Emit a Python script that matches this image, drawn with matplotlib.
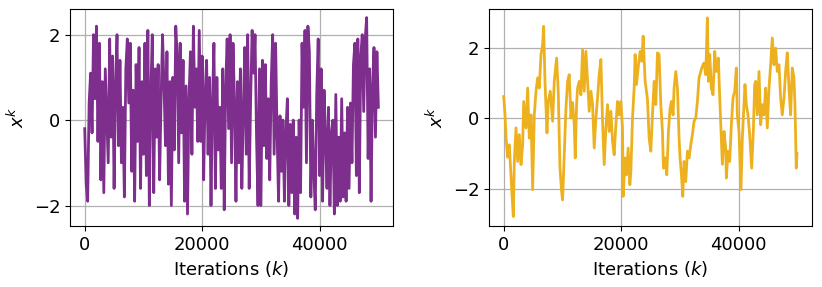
import numpy as np
import matplotlib
matplotlib.use('Agg')
import matplotlib.pyplot as plt

# left chain: fast mixing, sampled every 250 iterations
left_step = 250
left_x = [
    -0.2, -1.5, -1.9, 0.4, 1.1, -0.3, 2.0, 0.5, 2.2, -0.5,
    1.8, -1.4, 0.9, -1.7, 1.2, 0.1, -1.0, 1.9, -0.4, 1.5,
    -1.6, 0.8, 2.0, -0.6, 1.4, -1.0, 0.3, -1.8, 1.2, 1.9,
    0.4, 1.8, -1.2, 0.7, -1.9, 1.3, -0.5, 1.7, -1.6, 0.9,
    -0.8, 1.8, -1.3, 2.1, -2.0, 0.6, 2.0, -1.7, 1.2, -0.4,
    1.3, -1.4, 0.5, 2.0, 0.8, -0.6, 1.6, -1.5, 0.9, -2.0,
    1.0, -0.7, 2.2, 1.5, -1.0, 1.8, -0.3, 1.4, -1.9, 0.8,
    -2.2, 0.5, 1.6, -0.8, 2.2, 0.3, 1.2, -0.5, 2.1, -0.5,
    1.5, -1.4, 0.6, 1.4, -0.8, 1.0, -2.0, 0.4, 1.8, -1.6,
    1.0, -0.7, 0.3, -1.6, 1.2, -2.1, 0.8, 1.9, -0.2, 2.0,
    -1.0, 1.8, 0.4, -1.9, 0.9, -1.0, 1.2, -1.6, 0.2, 1.7,
    -0.8, 2.0, -1.6, 0.5, 2.1, 1.1, 2.0, -0.4, -2.0, 1.2,
    -2.0, 1.4, -0.6, 1.3, -0.9, 0.5, -1.4, 0.9, 2.0, -0.8,
    1.8, -0.3, -1.9, 0.1, -1.2, 0.0, -1.9, -0.3, 0.5, -2.0,
    -0.1, -1.7, 0.0, -2.2, -0.4, -2.3, 0.0, -1.7, 1.8, 0.3,
    2.1, -1.0, 2.2, 1.6, -1.8, 0.0, -1.2, -2.1, 0.6, 1.9,
    -1.3, 1.2, -1.9, 0.7, -0.4, -1.6, 0.3, -2.0, -0.3, 0.0,
    -2.2, 0.6, -2.0, -0.4, -1.9, 0.5, -1.8, -0.3, -1.9, 0.3,
    -1.6, 0.4, -1.0, 1.3, 1.8, -1.3, 1.9, -1.7, 1.5, 2.0,
    0.2, 1.9, 2.4, -0.9, 1.2, -1.9, 0.8, 1.7, -0.4, 1.6,
    0.3,
]
left_k = np.arange(len(left_x)) * left_step

# right chain: slow mixing, read at irregular iterations
right_k = [
    0, 230, 400, 680, 960, 1130, 1360, 1640, 1810, 2100,
    2380, 2660, 2950, 3230, 3400, 3800, 4080, 4360, 4650, 4930,
    5210, 5500, 5780, 6060, 6350, 6630, 6800, 7030, 7370, 7590,
    7930, 8330, 8610, 9010, 9290, 9580, 9860, 10030, 10310, 10600,
    10880, 11160, 11450, 11730, 12010, 12180, 12410, 12580, 12860, 13150,
    13430, 13710, 14000, 14280, 14560, 14850, 15130, 15410, 15700, 15980,
    16260, 16550, 16830, 17110, 17400, 17680, 17960, 18250, 18530, 18810,
    19100, 19380, 19660, 19950, 20230, 20340, 20680, 20910, 21190, 21480,
    21650, 21930, 22210, 22380, 22610, 22950, 23230, 23520, 23740, 24080,
    24480, 24760, 25050, 25330, 25610, 25900, 26180, 26460, 26750, 27030,
    27200, 27480, 27770, 28050, 28330, 28560, 28840, 29010, 29300, 29580,
    29860, 30030, 30260, 30490, 30710, 31000, 31280, 31560, 31850, 32130,
    32410, 32700, 32980, 33260, 33550, 33830, 34110, 34400, 34680, 34850,
    35080, 35360, 35640, 35930, 36210, 36550, 36780, 37060, 37230, 37510,
    37800, 37910, 38190, 38480, 38760, 39040, 39330, 39610, 39780, 40060,
    40230, 40400, 40630, 40910, 41080, 41310, 41590, 41880, 42220, 42500,
    42730, 42900, 43180, 43470, 43750, 44030, 44320, 44600, 44880, 45170,
    45450, 45730, 46020, 46300, 46580, 46870, 47150, 47430, 47720, 48000,
    48280, 48570, 48850, 49130, 49420, 49590, 49810, 49930,
]
right_x = [
    0.62, 0.10, -0.55, -1.10, -0.75, -1.30, -2.00, -2.78, -1.22, -0.27,
    -1.22, -0.46, -1.31, -0.75, 0.48, -0.27, 0.86, -0.56, 0.10, -2.02,
    0.10, 0.77, 1.15, 0.86, 1.81, 2.09, 2.61, 1.05, -0.41, 0.48,
    0.77, -0.08, 1.05, 1.71, 0.77, -1.41, -2.07, -2.31, -1.03, 0.29,
    1.05, 1.24, 0.01, 0.45, -0.18, -1.12, 0.39, 0.86, 1.05, 0.67,
    1.95, 0.77, 1.90, 1.05, 0.20, 0.77, 0.39, -0.84, 0.01, 0.58,
    1.24, 1.67, -0.08, -1.31, -0.27, 0.39, -0.37, 0.20, -0.65, -1.03,
    -0.18, 0.48, 0.10, 0.48, -0.27, -2.21, -1.12, -1.60, -0.84, -1.88,
    -1.50, 0.01, 0.86, 1.81, 0.96, 1.52, 1.90, 1.62, 2.33, 1.05,
    0.55, -0.56, -0.93, 0.10, 1.05, 0.39, 1.86, 1.81, 0.39, -0.37,
    -1.41, -1.12, -1.60, -0.37, 0.29, 0.48, 0.10, 0.86, 1.33, 0.86,
    -0.56, -1.12, -1.60, -2.21, -1.22, -1.79, -0.93, -1.12, -0.75, -0.46,
    -0.08, 0.01, 0.48, 1.15, 1.33, 1.48, 1.57, 1.24, 2.85, 1.05,
    1.81, 0.86, 0.67, 1.90, 1.33, 1.71, 0.58, -0.56, -1.30, -0.37,
    -0.84, -1.69, -0.93, -1.22, -0.18, 0.58, 0.77, 1.43, 0.10, -0.37,
    -1.22, -2.02, -0.56, 0.39, 0.96, 0.39, 0.10, -0.46, -1.41, -0.37,
    0.96, 1.05, 0.10, 1.33, -0.18, 0.39, 0.10, 0.86, -0.27, 0.86,
    1.52, 2.28, 1.52, 1.99, 1.33, 1.52, 0.58, 0.10, 0.58, 1.33,
    1.86, 0.86, 0.10, 1.43, 1.15, 0.39, -1.41, -1.00,
]

plt.rcParams['font.size'] = 13

fig = plt.figure(figsize=(8.22, 2.87), dpi=100)
ax1 = fig.add_axes([0.0852, 0.2125, 0.393, 0.756])
ax2 = fig.add_axes([0.5949, 0.2125, 0.393, 0.756])

ax1.plot(left_k, left_x, color='#7E2F8E', linewidth=2.0)
ax2.plot(right_k, right_x, color='#EDB120', linewidth=2.0)

for ax in (ax1, ax2):
    ax.grid(True, color='#b0b0b0', linewidth=0.9)
    ax.set_axisbelow(True)
    ax.set_xlabel('Iterations ($k$)')
    ax.set_ylabel('$x^k$')
    ax.set_xticks([0, 20000, 40000])
    ax.set_yticks([-2, 0, 2])
    ax.set_xlim(-2500, 52500)

ax1.set_ylim(-2.48, 2.6)
ax2.set_ylim(-3.05, 3.1)

plt.savefig('out.png', dpi=100)
